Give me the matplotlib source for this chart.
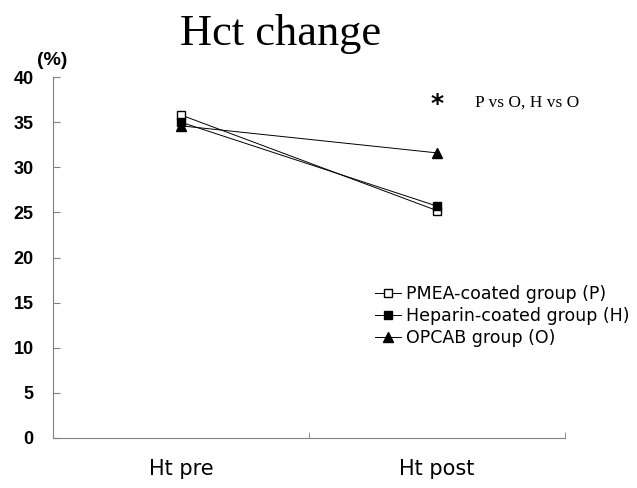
import matplotlib.pyplot as plt

categories = ['Ht pre', 'Ht post']
pmea = [35.8, 25.2]
heparin = [35.0, 25.7]
opcab = [34.6, 31.6]
yticks = [0, 5, 10, 15, 20, 25, 30, 35, 40]

fig = plt.figure(figsize=(6.37, 4.88), dpi=100)
ax = fig.add_axes([0.0832, 0.1025, 0.8038, 0.7395])

xs = [0.5, 1.5]
ax.plot(xs, pmea, '-', color='black', lw=0.7, marker='s', ms=5.5,
        mfc='white', mec='black', label='PMEA-coated group (P)')
ax.plot(xs, heparin, '-', color='black', lw=0.7, marker='s', ms=5.5,
        mfc='black', mec='black', label='Heparin-coated group (H)')
ax.plot(xs, opcab, '-', color='black', lw=0.7, marker='^', ms=7,
        mfc='black', mec='black', label='OPCAB group (O)')

ax.set_xlim(0, 2)
ax.set_ylim(0, 40)
ax.set_yticks(yticks)
ax.set_yticklabels([str(v) for v in yticks], fontsize=13, fontweight='bold',
                   family='Liberation Sans')
ax.set_xticks(xs)
ax.set_xticklabels(categories, fontsize=15)
ax.set_xticks([1, 2], minor=True)
ax.tick_params(axis='x', which='major', length=0, pad=15)
ax.tick_params(axis='x', which='minor', direction='in', length=4, color='gray')
ax.tick_params(axis='y', direction='in', length=5, color='gray', pad=14)
for s in ['top', 'right']:
    ax.spines[s].set_visible(False)
ax.spines['left'].set_color('gray')
ax.spines['bottom'].set_color('gray')

ax.legend(loc='upper left', bbox_to_anchor=(0.629, 0.425), frameon=False,
          fontsize=12.5, handlelength=1.5, handletextpad=0.3,
          labelspacing=0.25, borderaxespad=0, borderpad=0)

fig.text(0.44, 0.908, 'Hct change', fontsize=32, family='Liberation Serif',
         ha='center', va='baseline')
fig.text(0.082, 0.877, '(%)', fontsize=14, fontweight='bold',
         family='Liberation Sans', ha='center', va='center')
ax.text(1.5, 37.0, '*', fontsize=18, fontweight='bold', ha='center', va='center')
fig.text(0.745, 0.789, 'P vs O, H vs O', fontsize=12.5, family='Liberation Serif',
         ha='left', va='center')

fig.savefig('out.png', dpi=100)
